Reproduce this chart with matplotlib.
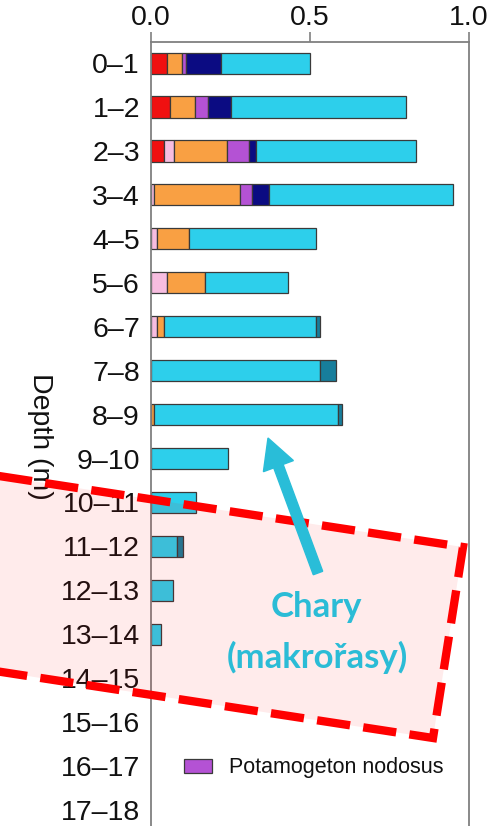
import numpy as np
import matplotlib
matplotlib.use("Agg")
import matplotlib.pyplot as plt
from matplotlib.patches import Polygon, Rectangle, FancyArrow
from matplotlib.transforms import Affine2D

plt.rcParams["font.family"] = ["Liberation Sans", "DejaVu Sans"]

# Depth classes (m)
depths = ["0–1", "1–2", "2–3", "3–4", "4–5", "5–6", "6–7", "7–8", "8–9",
          "9–10", "10–11", "11–12", "12–13", "13–14", "14–15", "15–16",
          "16–17", "17–18"]

# Cover fractions per taxon, stacked left to right
sp_red = [0.050, 0.061, 0.040, 0, 0, 0, 0, 0, 0, 0, 0, 0, 0, 0, 0, 0, 0, 0]
sp_pink = [0, 0, 0.031, 0.008, 0.020, 0.049, 0.020, 0, 0, 0, 0, 0, 0, 0, 0, 0, 0, 0]
sp_orange = [0.048, 0.077, 0.169, 0.271, 0.101, 0.122, 0.022, 0, 0.010, 0, 0, 0, 0, 0, 0, 0, 0, 0]
potamogeton_nodosus = [0.012, 0.041, 0.068, 0.040, 0, 0, 0, 0, 0, 0, 0, 0, 0, 0, 0, 0, 0, 0]
sp_navy = [0.111, 0.073, 0.022, 0.051, 0, 0, 0, 0, 0, 0, 0, 0, 0, 0, 0, 0, 0, 0]
chara = [0.280, 0.549, 0.502, 0.580, 0.399, 0.260, 0.477, 0.531, 0.579, 0.241,
         0.140, 0.082, 0.070, 0.031, 0, 0, 0, 0]
sp_teal = [0, 0, 0, 0, 0, 0, 0.014, 0.050, 0.013, 0, 0, 0.018, 0, 0, 0, 0, 0, 0]

x_ticks = [0.0, 0.5, 1.0]
x_tick_labels = ["0.0", "0.5", "1.0"]

series = [
    (sp_red, "#f01010"),
    (sp_pink, "#f7bde0"),
    (sp_orange, "#f9a043"),
    (potamogeton_nodosus, "#b452d4"),
    (sp_navy, "#0b0b82"),
    (chara, "#2dcfeb"),
    (sp_teal, "#177e9c"),
]

W, H = 495, 826
fig = plt.figure(figsize=(W / 100, H / 100), dpi=100)

ax_left, ax_right, ax_top, ax_bottom = 151, 469, 42, 832
ax = fig.add_axes([ax_left / W, 1 - ax_bottom / H,
                   (ax_right - ax_left) / W, (ax_bottom - ax_top) / H])

y = np.arange(len(depths))
left = np.zeros(len(depths))
for vals, col in series:
    v = np.asarray(vals, dtype=float)
    m = v > 0
    ax.barh(y[m], v[m], left=left[m], height=0.48, color=col,
            edgecolor="#3a3a3a", linewidth=0.9, zorder=2)
    left += v

ax.set_xlim(0, 1.0)
ax.set_ylim(17.5, -0.48)
ax.xaxis.tick_top()
ax.set_xticks(x_ticks)
ax.set_xticklabels(x_tick_labels)
ax.tick_params(axis="x", direction="out", length=7, width=1.2, color="#808080",
               labelsize=20.5, pad=1, labelcolor="#111111")
ax.set_yticks(y)
ax.set_yticklabels(depths)
ax.tick_params(axis="y", length=0, labelsize=20.5, pad=8, labelcolor="#111111")
for side in ["top", "left", "right"]:
    ax.spines[side].set_color("#808080")
    ax.spines[side].set_linewidth(1.3)
ax.spines["bottom"].set_visible(False)

fig.text(40 / W, 1 - 436 / H, "Depth (m)", rotation=270, ha="center",
         va="center", fontsize=20.5, color="#111111")

# Pixel coordinates measured from the top-left corner of the figure
to_fig = Affine2D().scale(1 / W, -1 / H).translate(0, 1) + fig.transFigure

# Legend entry
fig.patches.append(Rectangle((184, 773), 28, -14, transform=to_fig,
                             facecolor="#b452d4", edgecolor="#3a3a3a",
                             linewidth=0.9))
fig.text(229 / W, 1 - 767 / H, "Potamogeton nodosus", ha="left", va="center",
         fontsize=15.5, color="#111111")

# Highlight box over the deep zone
tr = np.array([463.0, 547.0])
br = np.array([433.0, 738.0])
direction = np.array([-1.0, -0.153])
direction /= np.linalg.norm(direction)
tl = tr + direction * 560
bl = br + direction * 560
box = Polygon([tl, tr, br, bl], closed=True, transform=to_fig,
              facecolor=(1.0, 0.0, 0.0, 0.08), edgecolor="none", zorder=5)
fig.patches.append(box)
outline = Polygon([tl, tr, br, bl], closed=True, transform=to_fig,
                  facecolor="none", edgecolor="#ff0000", linewidth=6,
                  linestyle=(0, (4.0, 1.6)), capstyle="butt", zorder=6)
fig.patches.append(outline)

# Arrow and caption pointing at the Chara bars
arrow = FancyArrow(318, 573, -50, -135, width=10, head_width=32,
                   head_length=30, length_includes_head=True,
                   transform=to_fig, color="#29bdd8", zorder=7)
fig.patches.append(arrow)
fig.text(316 / W, 1 - 607 / H, "Chary", ha="center", va="center",
         fontsize=25, fontweight="bold", family="Lato", color="#2bbcd6",
         zorder=8)
fig.text(317 / W, 1 - 657 / H, "(makrořasy)", ha="center", va="center",
         fontsize=25, fontweight="bold", family="Lato", color="#2bbcd6",
         zorder=8)

fig.savefig("out.png", dpi=100)
